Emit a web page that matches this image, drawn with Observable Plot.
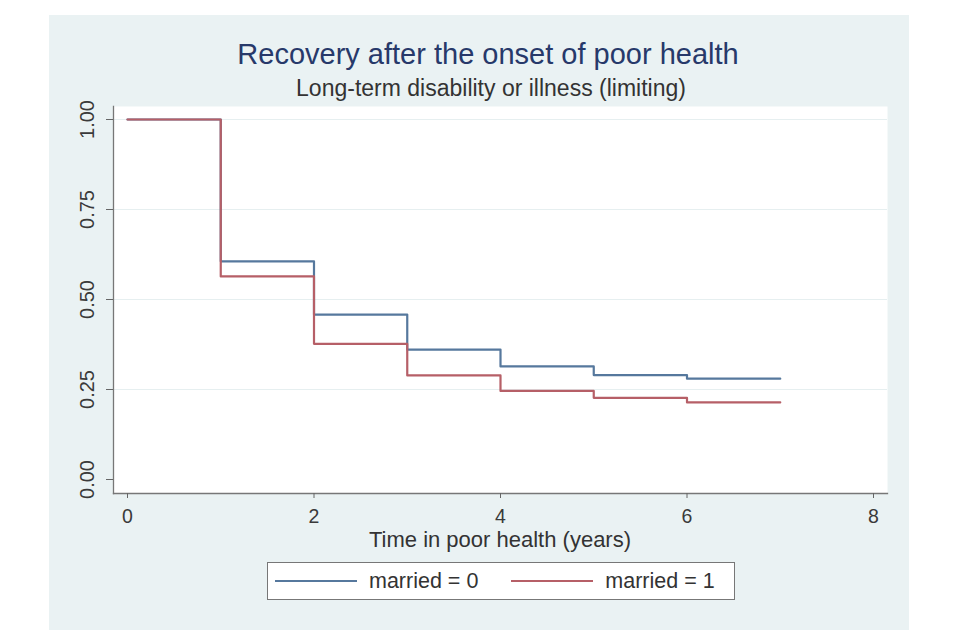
<!DOCTYPE html>
<html>
<head>
<meta charset="utf-8">
<script src="https://cdn.jsdelivr.net/npm/d3@7"></script>
<script src="https://cdn.jsdelivr.net/npm/@observablehq/plot@0.6"></script>
<style>
  html, body { margin: 0; padding: 0; background: #ffffff; }
  body { width: 960px; height: 640px; position: relative; overflow: hidden;
         font-family: "Liberation Sans", Arial, "DejaVu Sans", sans-serif; }
  #bg { position: absolute; left: 49px; top: 15px; width: 860px; height: 615px; background: #eaf2f3; }
  .t { position: absolute; width: 960px; text-align: center; white-space: nowrap; }
  #title { left: 8px; top: 40px; font-size: 29px; line-height: 29px; color: #27396a; }
  #subtitle { left: 11px; top: 77px; font-size: 23px; line-height: 23px; color: #333333; }
  #xlabel { left: 20px; top: 531px; font-size: 22px; line-height: 17px; color: #333333; }
  #chart { position: absolute; left: 0; top: 0; }
  #legend { position: absolute; left: 267px; top: 562px; width: 466px; height: 36px;
            background: #ffffff; border: 1px solid #777777; display: flex; align-items: center; }
  .sw { display: inline-block; height: 2px; width: 82px; }
  .lt { font-size: 21.5px; color: #333333; margin-left: 12px; }
</style>
</head>
<body>
<div id="bg"></div>
<div id="title" class="t">Recovery after the onset of poor health</div>
<div id="subtitle" class="t">Long-term disability or illness (limiting)</div>
<div id="chart"></div>
<div id="xlabel" class="t">Time in poor health (years)</div>
<div id="legend"></div>
<script>
// Data (Kaplan–Meier style step curves)
const years = [0, 1, 2, 3, 4, 5, 6, 7];
const married0 = [1.0, 0.606, 0.458, 0.361, 0.314, 0.290, 0.280, 0.280];
const married1 = [1.0, 0.564, 0.377, 0.289, 0.246, 0.227, 0.214, 0.214];
const seriesNames = ["married = 0", "married = 1"];
const seriesColors = ["#56789d", "#b65f67"];
const xTicks = [0, 2, 4, 6, 8];
const yTicks = [0, 0.25, 0.5, 0.75, 1];

const rows = [
  ...years.map((t, i) => ({t, s: married0[i], g: seriesNames[0]})),
  ...years.map((t, i) => ({t, s: married1[i], g: seriesNames[1]}))
];

const chart = Plot.plot({
  width: 960,
  height: 640,
  marginTop: 106,
  marginRight: 73,
  marginBottom: 147,
  marginLeft: 113,
  insetLeft: 14,
  insetRight: 14,
  insetTop: 13,
  insetBottom: 14,
  style: {background: "transparent", fontFamily: "'Liberation Sans', Arial, sans-serif", color: "#3a3a3a"},
  x: {domain: [0, 8], ticks: xTicks},
  y: {domain: [0, 1], ticks: yTicks},
  color: {domain: seriesNames, range: seriesColors},
  marks: [
    Plot.frame({fill: "#ffffff", stroke: "none"}),
    Plot.ruleY(yTicks.filter(d => d > 0), {stroke: "#e6eff0", strokeWidth: 1.2}),
    Plot.frame({anchor: "left", stroke: "#777777", strokeWidth: 1.3}),
    Plot.frame({anchor: "bottom", stroke: "#777777", strokeWidth: 1.3}),
    Plot.axisY(yTicks, {tickSize: 7, tickFormat: () => "", label: null, stroke: "#666666"}),
    Plot.text(yTicks, {y: d => d, text: d => d.toFixed(2), frameAnchor: "left", dx: -25.5,
                        rotate: -90, textAnchor: "middle", lineAnchor: "middle", fontSize: 20, fill: "#3a3a3a"}),
    Plot.axisX(xTicks, {tickSize: 5, tickPadding: 11, fontSize: 19.5, label: null, stroke: "#666666", fill: "#3a3a3a"}),
    Plot.line(rows, {x: "t", y: "s", z: "g", stroke: "g", curve: "step-after", strokeWidth: 2.2})
  ]
});
document.getElementById("chart").appendChild(chart);

const legend = document.getElementById("legend");
seriesNames.forEach((name, i) => {
  const item = document.createElement("div");
  item.style.display = "flex";
  item.style.alignItems = "center";
  item.style.marginLeft = i === 0 ? "7px" : "33px";
  const sw = document.createElement("span");
  sw.className = "sw";
  sw.style.background = seriesColors[i];
  const lt = document.createElement("span");
  lt.className = "lt";
  lt.textContent = name;
  item.appendChild(sw);
  item.appendChild(lt);
  legend.appendChild(item);
});
</script>
</body>
</html>
